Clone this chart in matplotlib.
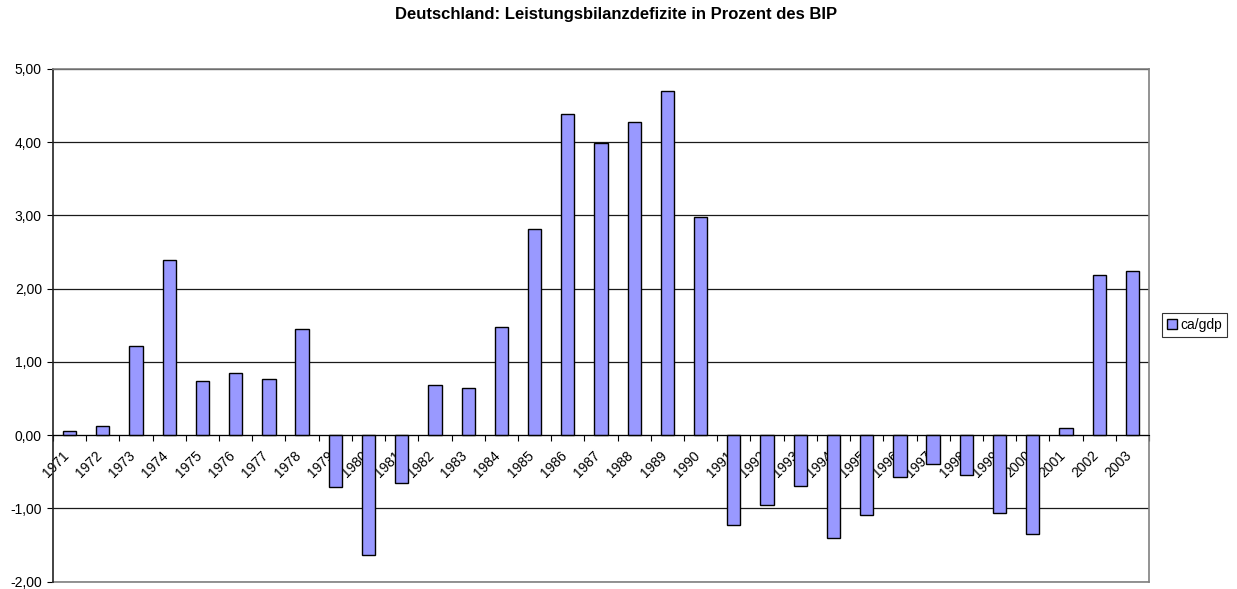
import matplotlib
matplotlib.use("Agg")
from matplotlib import pyplot as plt
from matplotlib import transforms
from matplotlib.ticker import FuncFormatter
import numpy as np

#Data
years = [str(y) for y in range(1971, 2004)]
ca_gdp = [0.05, 0.13, 1.22, 2.39, 0.74, 0.85, 0.76, 1.45, -0.71, -1.64,
          -0.66, 0.69, 0.64, 1.47, 2.82, 4.38, 3.99, 4.28, 4.70, 2.98,
          -1.23, -0.95, -0.70, -1.40, -1.09, -0.57, -0.40, -0.54, -1.07, -1.35,
          0.09, 2.19, 2.24]
title = "Deutschland: Leistungsbilanzdefizite in Prozent des BIP"
series_name = "ca/gdp"

plt.rcParams['font.family'] = ['Liberation Sans', 'DejaVu Sans']

W, H = 1237, 589
fig = plt.figure(figsize=(W/100, H/100), dpi=100)
ax = fig.add_axes([53/W, 1 - 581.5/H, (1149 - 53)/W, (581.5 - 69)/H])

x = np.arange(len(years))
ax.bar(x, ca_gdp, width=0.4, color="#9999FF", edgecolor="black",
       linewidth=1.0, label=series_name, zorder=3)

#Axes limits and grid
ax.set_xlim(-0.5, len(years) - 0.5)
ax.set_ylim(-2, 5)
ax.set_yticks(np.arange(-2, 6, 1))
ax.yaxis.set_major_formatter(FuncFormatter(lambda v, p: f"{v:.2f}".replace(".", ",")))
ax.grid(axis="y", color="#1a1a1a", linewidth=0.9, zorder=0)
ax.tick_params(axis="y", direction="out", length=4, width=0.8, labelsize=10, pad=4)

#Border like excel plot area
for side in ["top", "right"]:
    ax.spines[side].set_color("#808080")
    ax.spines[side].set_linewidth(1.2)
ax.spines["left"].set_color("#222222")
ax.spines["left"].set_linewidth(1.2)
ax.spines["bottom"].set_position(("data", 0))
ax.spines["bottom"].set_color("black")
ax.spines["bottom"].set_zorder(4)
ax.plot([0, 1], [0, 0], transform=ax.transAxes, color="#808080", lw=1.2, clip_on=False)

#Category ticks at boundaries, labels at centers
ax.set_xticks(np.arange(-0.5, len(years), 1))
ax.set_xticklabels([])
ax.tick_params(axis="x", which="major", direction="out", length=4, width=0.8)
ax.set_xticks(x, minor=True)
ax.set_xticklabels(years, minor=True, rotation=45, ha="right", va="center",
                   rotation_mode="anchor", fontsize=10)
ax.tick_params(axis="x", which="minor", length=0, pad=13)
offset = transforms.ScaledTranslation(-3/100, 0, fig.dpi_scale_trans)
for lbl in ax.get_xticklabels(minor=True):
    lbl.set_transform(lbl.get_transform() + offset)

fig.text(616/W, 1 - 15/H, title, ha="center", va="center",
         fontsize=12, fontweight="bold")

leg = ax.legend(loc="center left", bbox_to_anchor=(1162/W, 1 - 325/H),
                bbox_transform=fig.transFigure, fontsize=10, frameon=True,
                fancybox=False, borderpad=0.35, handlelength=0.75, handleheight=0.75,
                handletextpad=0.25, borderaxespad=0)
leg.get_frame().set_edgecolor("black")
leg.get_frame().set_linewidth(0.8)
for h in leg.legend_handles:
    h.set_edgecolor("black")

fig.savefig("out.png", dpi=100)
